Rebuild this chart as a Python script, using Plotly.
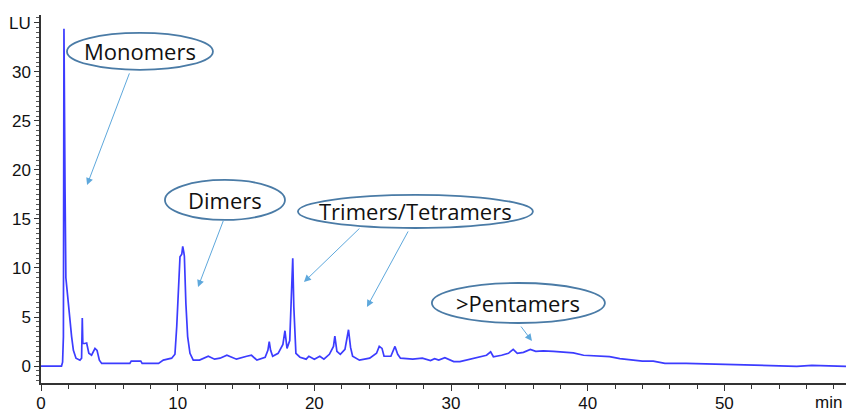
import plotly.graph_objects as go

# Retention time (min) and fluorescence signal (LU)
time_min = [0, 1.5, 1.58, 1.64, 1.68, 1.72, 1.76, 1.82, 1.88, 2.0, 2.12, 2.24, 2.37, 2.56, 2.85,
            2.97, 3.02, 3.06, 3.2, 3.34, 3.5, 3.7, 3.95, 4.1, 4.27, 4.44, 6.5, 6.6, 7.3, 7.4,
            8.6, 8.95, 9.56, 9.8, 9.93, 10.05, 10.17, 10.3, 10.37, 10.45, 10.49, 10.6, 10.73,
            10.9, 11.14, 11.6, 12.24, 12.7, 13.1, 13.6, 14.3, 15.05, 15.4, 15.8, 16.4, 16.6,
            16.7, 16.8, 16.95, 17.35, 17.7, 17.85, 18.0, 18.2, 18.33, 18.42, 18.5, 18.65,
            18.95, 19.4, 19.6, 20.0, 20.4, 20.7, 21.1, 21.4, 21.5, 21.65, 21.9, 22.24, 22.5,
            22.65, 22.8, 23.3, 24.05, 24.55, 24.75, 24.95, 25.1, 25.6, 25.9, 26.1, 26.3, 27.2,
            27.9, 28.5, 28.8, 29.1, 29.55, 30.2, 30.65, 31.4, 32.35, 32.6, 32.9, 33.1, 33.7,
            34.2, 34.55, 34.85, 35.3, 35.8, 36.2, 36.75, 37.5, 38.2, 38.95, 39.7, 40.65, 41.6,
            42.35, 43.3, 44.0, 44.8, 45.65, 47.2, 49.8, 52.6, 55.3, 56.4, 58.9]
signal_lu = [0, 0, 0.4, 3.0, 34.4, 29.4, 18.0, 9.0, 8.1, 6.7, 5.0, 3.0, 1.6, 0.8, 0.6,
             0.8, 4.9, 2.3, 2.3, 2.35, 1.3, 1.1, 1.8, 1.6, 0.6, 0.27, 0.27, 0.5, 0.5, 0.27,
             0.27, 0.6, 0.8, 1.2, 4.0, 7.8, 11.15, 11.4, 12.2, 11.6, 11.2, 6.4, 3.0,
             1.3, 0.6, 0.6, 1.0, 0.7, 0.8, 1.1, 0.7, 1.0, 1.1, 0.6, 0.9, 1.6,
             2.5, 1.6, 1.0, 1.3, 2.2, 3.6, 1.8, 2.6, 7.4, 11.0, 6.0, 1.3,
             0.9, 0.7, 1.0, 0.7, 1.0, 0.7, 1.2, 2.0, 3.06, 1.5, 1.2, 1.7, 3.7,
             1.9, 1.0, 0.6, 0.8, 1.3, 2.0, 1.8, 1.0, 1.0, 2.0, 1.2, 0.8, 0.7,
             0.8, 0.55, 0.75, 0.6, 0.85, 0.45, 0.45, 0.7, 1.0, 1.1, 1.45, 0.95, 1.1,
             1.3, 1.7, 1.3, 1.4, 1.7, 1.5, 1.55, 1.5, 1.45, 1.35, 1.1, 1.0, 0.95,
             0.75, 0.6, 0.5, 0.5, 0.27, 0.27, 0.17, 0.07, -0.03, 0.07, -0.03]

x_ticks = [0, 10, 20, 30, 40, 50]
y_ticks = [0, 5, 10, 15, 20, 25, 30, 35]
y_tick_text = ["0", "5", "10", "15", "20", "25", "30", "LU"]

# Callout labels: text, ellipse box (x0, x1, y0, y1)
labels = ["Monomers", "Dimers", "Trimers/Tetramers", ">Pentamers"]
label_boxes = [(1.9, 12.58, 30.2, 33.98), (9.07, 17.85, 14.9, 18.98),
               (18.8, 35.99, 14.08, 17.45), (28.6, 41.26, 4.39, 8.47)]
# Arrows: (tail_x, tail_y, head_x, head_y)
arrows = [(6.51, 30.0, 3.37, 18.47), (13.39, 15.0, 11.49, 8.06),
          (23.41, 14.18, 19.24, 8.57), (26.92, 13.88, 23.85, 6.02),
          (35.04, 4.18, 35.92, 2.55)]

tick_font = dict(family="Liberation Sans, Arial", size=17, color="#111")

fig = go.Figure()
fig.add_trace(go.Scatter(x=time_min, y=signal_lu, mode="lines",
                         line=dict(color="#3c3cff", width=1.7), showlegend=False))

for txt, (x0, x1, y0, y1) in zip(labels, label_boxes):
    fig.add_shape(type="circle", xref="x", yref="y", x0=x0, x1=x1, y0=y0, y1=y1,
                  line=dict(color="#4a7ba6", width=1.8), fillcolor="white", layer="above")
    fig.add_annotation(x=(x0 + x1) / 2, y=(y0 + y1) / 2, text=txt, showarrow=False,
                       font=dict(family="Open Sans", size=22, color="#111"))

for tx, ty, hx, hy in arrows:
    fig.add_annotation(x=hx, y=hy, ax=tx, ay=ty, xref="x", yref="y", axref="x", ayref="y",
                       text="", showarrow=True, arrowhead=2, arrowsize=1.4, arrowwidth=1,
                       arrowcolor="#5ea8dc")

fig.add_annotation(x=1, y=0, xref="paper", yref="paper", xanchor="right", yanchor="top",
                   yshift=-8, xshift=-2, text="min", showarrow=False, font=tick_font)

fig.update_layout(
    width=846, height=414,
    margin=dict(l=41, r=0, t=15, b=31, autoexpand=False),
    paper_bgcolor="white", plot_bgcolor="white",
    xaxis=dict(range=[0, 58.9], tickvals=x_ticks, ticks="outside", ticklen=6,
               tickcolor="#333", showline=True, linecolor="#333", linewidth=1.5,
               showgrid=False, zeroline=False, tickfont=tick_font, automargin=False,
               ticklabelstandoff=-2,
               minor=dict(dtick=2, tick0=0, ticks="outside", ticklen=4, tickcolor="#333")),
    yaxis=dict(range=[-1.73, 35.8], tickvals=y_ticks, ticktext=y_tick_text,
               ticks="outside", ticklen=5, tickcolor="#333", showline=True,
               linecolor="#333", linewidth=1.5, showgrid=False, zeroline=False,
               tickfont=tick_font, automargin=False,
               minor=dict(dtick=0.5, tick0=0, ticks="outside", ticklen=3, tickcolor="#555")),
)

fig.write_html("out.html", config={"displayModeBar": False},
               post_script="document.body.style.margin='0';document.body.style.overflow='hidden';")
